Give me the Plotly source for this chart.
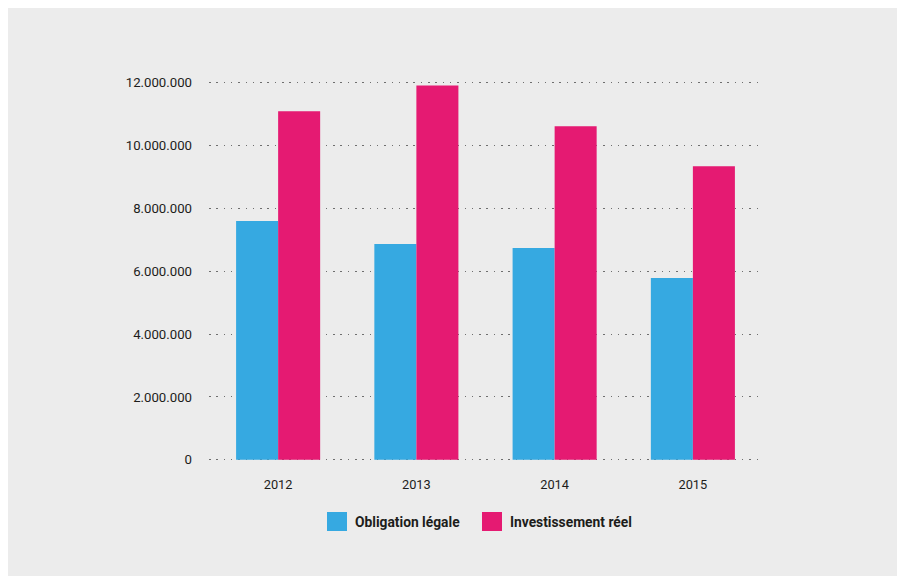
import plotly.graph_objects as go

years = ["2012", "2013", "2014", "2015"]
series_names = ["Obligation légale", "Investissement réel"]
obligation = [7590000, 6860000, 6730000, 5780000]
investissement = [11080000, 11900000, 10600000, 9330000]
colors = ["#36a9e1", "#e51a72"]
y_ticks = [0, 2000000, 4000000, 6000000, 8000000, 10000000, 12000000]

OFF = 8  # page margin on left/top
W_FIG, H_FIG = 897 - OFF, 576 - OFF
L, T, B = 201, 68, 113
PW = 553
R = W_FIG - L - PW
PH = H_FIG - T - B


def px(xs):
    return (xs - OFF - L) / PW


def py(ys):
    return 1 - (ys - OFF - T) / PH


fig = go.Figure()
for name, vals, col in zip(series_names, [obligation, investissement], colors):
    fig.add_trace(go.Bar(x=years, y=vals, name=name, marker=dict(color=col, line=dict(width=0)),
                         showlegend=False))

font_family = "Roboto, 'DejaVu Sans', sans-serif"

# manual legend (larger swatches than plotly's default legend)
legend_swatch_x = [327, 482]
legend_text_x = [353, 508]
shapes = []
annotations = []
for name, col, sx, tx in zip(series_names, colors, legend_swatch_x, legend_text_x):
    shapes.append(dict(type="rect", xref="paper", yref="paper",
                       x0=px(sx), x1=px(sx + 20), y0=py(531), y1=py(512),
                       fillcolor=col, line=dict(width=0), layer="above"))
    annotations.append(dict(text="<b>" + name + "</b>", xref="paper", yref="paper",
                            x=px(tx), y=py(521.5), xanchor="left", yanchor="middle",
                            showarrow=False, font=dict(size=13.8, color="#1d1d1b", family=font_family)))

fig.update_layout(
    width=W_FIG, height=H_FIG,
    margin=dict(l=L, r=R, t=T, b=B, pad=0),
    paper_bgcolor="#ececec", plot_bgcolor="#ececec",
    barmode="group", bargap=0.392, bargroupgap=0,
    separators=",.",
    font=dict(family=font_family, size=12.5, color="#1d1d1b"),
    shapes=shapes, annotations=annotations,
    showlegend=False,
)
fig.update_xaxes(showgrid=False, showline=False, zeroline=False, ticks="",
                 ticklabelstandoff=12, tickfont=dict(size=12.8, color="#1d1d1b"))
fig.update_yaxes(range=[-100000, 12200000], tickvals=y_ticks, tickformat=",d",
                 showgrid=True, gridcolor="#6e6e6e", gridwidth=1, griddash="1.5px,5.8px",
                 zeroline=False, showline=False, ticks="", ticklabelstandoff=16,
                 tickfont=dict(size=13.2, color="#1d1d1b"))

post = ("document.documentElement.style.background='#ffffff';"
        "document.body.style.background='#ececec';"
        "document.body.style.margin='8px 0 0 8px';")
fig.write_html("out.html", post_script=post)
